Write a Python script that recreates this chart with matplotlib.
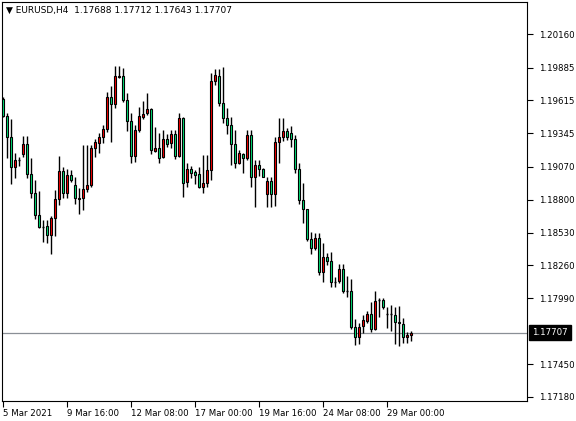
import matplotlib
matplotlib.use("Agg")
import matplotlib.pyplot as plt
import matplotlib.transforms as mtransforms
import numpy as np

opens = [1.19626,1.19487,1.19315,1.19069,1.19126,1.19175,1.19257,1.19010,1.18854,1.18674,
         1.18576,1.18584,1.18510,1.18649,1.18805,1.19035,1.18854,1.19002,1.18920,1.18805,
         1.18813,1.18887,1.18920,1.19224,1.19265,1.19315,1.19380,1.19643,1.19585,1.19807,
         1.19815,1.19618,1.19446,1.19159,1.19372,1.19479,1.19511,1.19544,1.19200,1.19224,
         1.19151,1.19298,1.19265,1.19339,1.19159,1.19470,1.18945,1.19052,1.19027,1.19010,
         1.18904,1.18936,1.19043,1.19774,1.19815,1.19593,1.19470,1.19413,1.19257,1.19101,
         1.19175,1.19142,1.19331,1.18986,1.19085,1.19052,1.18846,1.18953,1.18846,1.19274,
         1.19315,1.19364,1.19347,1.19298,1.19052,1.18797,1.18723,1.18477,1.18403,1.18485,
         1.18206,1.18329,1.18297,1.18124,1.18132,1.18230,1.18050,1.18050,1.17754,1.17672,
         1.17763,1.17804,1.17861,1.17738,1.17976,1.17976,1.17861,1.17861,1.17853,1.17796,
         1.17779,1.17672,1.17689]
highs = [1.19643,1.19511,1.19462,1.19183,1.19151,1.19323,1.19323,1.19142,1.18961,1.18871,
         1.18633,1.18633,1.18666,1.18879,1.19159,1.19069,1.19052,1.19043,1.18986,1.18895,
         1.19249,1.19249,1.19249,1.19298,1.19347,1.19413,1.19684,1.19733,1.19897,1.19897,
         1.19880,1.19676,1.19511,1.19413,1.19561,1.19610,1.19676,1.19552,1.19397,1.19347,
         1.19372,1.19339,1.19372,1.19372,1.19511,1.19479,1.19101,1.19077,1.19043,1.19069,
         1.19167,1.19167,1.19840,1.19872,1.19872,1.19889,1.19552,1.19479,1.19372,1.19208,
         1.19183,1.19372,1.19372,1.19126,1.19126,1.19060,1.18986,1.18986,1.19315,1.19470,
         1.19470,1.19388,1.19405,1.19331,1.19101,1.18936,1.18723,1.18535,1.18526,1.18526,
         1.18444,1.18362,1.18370,1.18165,1.18272,1.18272,1.18173,1.18148,1.17820,1.17787,
         1.17853,1.17886,1.17960,1.18050,1.17993,1.17993,1.17919,1.17935,1.17919,1.17927,
         1.17828,1.17714,1.17722]
lows = [1.19479,1.19142,1.18928,1.18977,1.19077,1.19151,1.18977,1.18813,1.18641,1.18567,
        1.18453,1.18444,1.18354,1.18502,1.18756,1.18813,1.18813,1.18945,1.18764,1.18682,
        1.18715,1.18863,1.18904,1.19151,1.19183,1.19265,1.19355,1.19274,1.19552,1.19799,
        1.19602,1.19364,1.19101,1.19110,1.19355,1.19462,1.19495,1.19175,1.19192,1.19101,
        1.19142,1.19233,1.19224,1.19134,1.19151,1.18821,1.18904,1.18977,1.18928,1.18895,
        1.18854,1.18904,1.18961,1.19741,1.19569,1.19429,1.19339,1.19085,1.19060,1.19093,
        1.19019,1.19126,1.18904,1.18740,1.18994,1.18986,1.18740,1.18740,1.18748,1.19101,
        1.19282,1.19290,1.19233,1.19019,1.18764,1.18608,1.18461,1.18354,1.18387,1.18181,
        1.18124,1.18264,1.18083,1.18083,1.18116,1.18033,1.18000,1.17738,1.17607,1.17615,
        1.17705,1.17787,1.17714,1.17730,1.17837,1.17902,1.17746,1.17722,1.17615,1.17599,
        1.17623,1.17623,1.17640]
closes = [1.19487,1.19315,1.19069,1.19126,1.19130,1.19257,1.19010,1.18854,1.18674,1.18576,
          1.18570,1.18510,1.18649,1.18805,1.19035,1.18854,1.19002,1.18961,1.18813,1.18813,
          1.18887,1.18920,1.19224,1.19274,1.19315,1.19380,1.19643,1.19585,1.19815,1.19815,
          1.19618,1.19446,1.19159,1.19372,1.19487,1.19503,1.19544,1.19208,1.19224,1.19142,
          1.19298,1.19257,1.19339,1.19159,1.19470,1.18936,1.19052,1.19019,1.19002,1.18904,
          1.18936,1.19043,1.19774,1.19823,1.19593,1.19470,1.19413,1.19257,1.19101,1.19183,
          1.19142,1.19331,1.18986,1.19085,1.19052,1.18986,1.18953,1.18846,1.19274,1.19315,
          1.19364,1.19315,1.19298,1.19052,1.18797,1.18723,1.18477,1.18403,1.18485,1.18206,
          1.18329,1.18297,1.18124,1.18120,1.18230,1.18050,1.18046,1.17754,1.17672,1.17754,
          1.17812,1.17861,1.17738,1.17968,1.17972,1.17919,1.17857,1.17857,1.17796,1.17787,
          1.17672,1.17689,1.17707]

ytick_vals = [1.20160,1.19885,1.19615,1.19345,1.19070,1.18800,1.18530,1.18260,1.17990,1.17450,1.17180]
xtick_pos = [0,16,32,48,64,80,96]
xtick_labels = ["5 Mar 2021","9 Mar 16:00","12 Mar 08:00","17 Mar 00:00","19 Mar 16:00","24 Mar 08:00","29 Mar 00:00"]
last_price = 1.17707
title = "EURUSD,H4  1.17688 1.17712 1.17643 1.17707"

UP = "#ff0000"
DOWN = "#00e67a"

fig = plt.figure(figsize=(5.76, 4.21), dpi=100)
ax = fig.add_axes([2/576, 20/421, 525/576, 399/421])
n = len(opens)
x = np.arange(n)
o = np.array(opens); h = np.array(highs); l = np.array(lows); c = np.array(closes)
ax.vlines(x, l, h, color="black", lw=1, zorder=2)
w = 0.55
for i in range(n):
    bot = min(o[i], c[i]); top = max(o[i], c[i])
    col = UP if c[i] > o[i] else DOWN
    if top - bot < 0.00006:
        ax.hlines((o[i]+c[i])/2, i-w/2, i+w/2, color="black", lw=1, zorder=3)
    else:
        ax.bar(i, top-bot, bottom=bot, width=w, color=col, edgecolor="black", lw=0.8, zorder=3)

ax.axhline(last_price, color="#8a8f96", lw=0.9, zorder=1)
ax.set_xlim(-0.25, 131)
ax.set_ylim(1.17147, 1.20423)
ax.yaxis.tick_right()
ax.set_yticks(ytick_vals)
ax.set_yticklabels([f"{v:.5f}" for v in ytick_vals])
ax.set_xticks(xtick_pos)
ax.set_xticklabels(xtick_labels, ha="left")
for lab in ax.get_xticklabels():
    lab.set_transform(lab.get_transform() + mtransforms.ScaledTranslation(1/100, 0, fig.dpi_scale_trans))
ax.tick_params(axis="both", labelsize=6.2, direction="out", length=4, width=0.8, colors="black", pad=2)
ax.tick_params(axis="y", pad=5)
for s in ax.spines.values():
    s.set_linewidth(0.8)

trans = mtransforms.blended_transform_factory(ax.transAxes, ax.transData)
ax.text(1.01, last_price, f"{last_price:.5f}", transform=trans, va="center", ha="left",
        fontsize=6.2, color="white",
        bbox=dict(boxstyle="square,pad=0.35", facecolor="black", edgecolor="black"), clip_on=False, zorder=5)
ax.text(0.008, 0.978, "\u25bc " + title, transform=ax.transAxes, fontsize=6.5, va="center", ha="left")

fig.savefig("out.png", dpi=100)
